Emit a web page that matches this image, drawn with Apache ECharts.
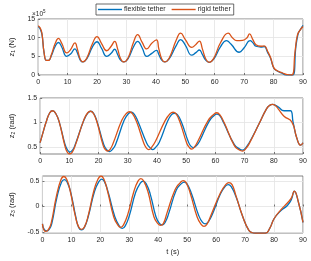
<!DOCTYPE html>
<html>
<head>
<meta charset="utf-8">
<script src="https://cdn.jsdelivr.net/npm/echarts@6/dist/echarts.min.js"></script>
<style>
html,body{margin:0;padding:0;background:#fff;}
#chart{width:311px;height:261px;}
</style>
</head>
<body>
<div id="chart"></div>
<script>
// z1 (x10^5 N): [t (s), value]
var z1Flexible = [[0,13],[0.7,12.3],[1.3,10.8],[2,6],[2.8,3.9],[3.5,3.9],[4.5,5.2],[5.8,7.7],[6.9,8.7],[8,7.5],[9.7,5],[11,5.6],[12.5,7],[13.3,6],[14.3,4],[15.2,3.5],[16.5,4.3],[18.5,7.6],[20,8.9],[21.5,7.2],[23.3,5],[24.8,5.8],[26,6.9],[27,5.5],[28,4],[29.1,3.5],[30.5,4.3],[32.5,7.7],[33.8,9],[35.3,7.3],[36.9,5],[38.6,5.8],[40.2,6.6],[41,5.5],[42,4],[43,3.5],[44.5,4.3],[47,8],[48.4,9.5],[50,8],[52.2,5.3],[53.6,6],[54.8,6.7],[55.8,5.5],[57,3.9],[58.1,3.4],[59.6,4.2],[62,7.6],[64,9.2],[65.5,8.3],[68.3,6.1],[70,7.3],[72,9.2],[73,8.6],[74,7.7],[75.7,7.5],[76.8,7.6],[78,6],[79,4.4],[80.1,1.8],[81.2,1.1],[82.9,0.5],[84.3,0],[86.5,0],[87.6,7.7],[88.4,11.2],[89,12],[90,13.3]];
var z1Rigid = [[0,13.2],[0.7,12.6],[1.3,11],[2,6],[2.8,3.9],[3.5,3.9],[4.5,5.5],[5.8,8.5],[6.9,9.8],[8,8.5],[9.7,5.9],[11,6.8],[12.5,8.6],[13.3,7],[14.3,4.2],[15.2,3.5],[16.5,4.5],[18.5,8.5],[20,10.3],[21.5,8.5],[23.3,6.5],[24.8,7.7],[26,9],[27,7],[28,4.4],[29.1,3.5],[30.5,4.5],[32.5,9],[33.8,10.8],[35.3,8.8],[36.9,7],[38.6,8.5],[40.2,9.4],[41,7],[42,4.3],[43,3.5],[44.5,4.5],[47,9.5],[48.4,11.2],[50,9.5],[52.2,7.4],[53.6,8.2],[54.8,9.1],[55.8,7],[57,4.2],[58.1,3.4],[59.6,4.4],[62,8.7],[64.6,11.2],[66,10],[67.5,9.2],[69.5,9.3],[71,10],[71.8,11],[73,9.4],[74,8.1],[75.7,7.7],[76.8,7.8],[78,6.3],[79,4.6],[80.1,1.9],[81.2,1.15],[82.9,0.6],[84.6,0.1],[86.2,0],[87.3,6.3],[88.1,10.7],[89,12],[90,13]];

// z2 (rad)
var z2Flexible = [[0,0.59],[1,0.8],[2,1],[3.3,1.2],[4.3,1.24],[5.3,1.19],[6.5,1.02],[8.5,0.56],[9.3,0.45],[10.2,0.4],[11.1,0.44],[12,0.55],[15,1.05],[16.3,1.19],[17.3,1.23],[18.3,1.19],[19.5,1.02],[21.8,0.55],[22.8,0.45],[23.7,0.41],[24.7,0.45],[25.8,0.55],[28.8,1.05],[30.2,1.18],[31.2,1.21],[32.2,1.17],[33.5,1.02],[36.5,0.58],[37.6,0.49],[38.6,0.45],[39.6,0.5],[40.8,0.6],[43.6,1.02],[45,1.16],[46,1.19],[47,1.16],[48.3,1.02],[50.8,0.6],[51.6,0.52],[52.5,0.49],[53.5,0.53],[54.6,0.62],[57.8,1.02],[59.5,1.14],[60.5,1.17],[61.5,1.14],[62.8,1.0],[66.5,0.55],[68.3,0.46],[69.3,0.44],[70.3,0.48],[71.5,0.58],[75,0.98],[77.5,1.28],[78.6,1.35],[79.6,1.37],[80.6,1.35],[81.5,1.32],[83.5,1.24],[85.7,1.24],[86.6,1.01],[87.9,0.68],[89.2,0.54],[90,0.59]];
var z2Rigid = [[0,0.59],[1,0.8],[2,1],[3.3,1.2],[4.3,1.24],[5.3,1.19],[6.5,1.02],[8.5,0.52],[9.2,0.41],[10.1,0.36],[11,0.4],[12,0.53],[15,1.06],[16.3,1.2],[17.3,1.23],[18.3,1.18],[19.5,1],[21.5,0.55],[22.2,0.46],[23.1,0.42],[24,0.46],[25,0.58],[28,1.05],[29.6,1.19],[30.6,1.22],[31.6,1.18],[33,1.02],[35.5,0.58],[36.3,0.49],[37.2,0.45],[38.2,0.5],[39.5,0.62],[42.8,1.04],[44.5,1.18],[45.5,1.21],[46.5,1.18],[47.8,1.02],[50.2,0.58],[51,0.5],[51.9,0.46],[52.8,0.5],[54,0.62],[57.5,1.04],[59.5,1.17],[60.5,1.2],[61.5,1.16],[63,1.0],[66.5,0.53],[68.2,0.44],[69.3,0.42],[70.3,0.46],[71.5,0.56],[75,0.98],[77.5,1.28],[78.6,1.35],[79.6,1.37],[80.6,1.34],[81.5,1.28],[83.5,1.13],[86.2,1.01],[87.9,0.68],[89.2,0.54],[90,0.59]];

// z3 (rad)
var z3Flexible = [[0,-0.34],[0.6,-0.45],[1.5,-0.48],[2.4,-0.44],[3.2,-0.34],[5,0.18],[6.6,0.48],[7.6,0.53],[8.6,0.47],[9.8,0.27],[11.5,-0.2],[12.5,-0.41],[13.5,-0.46],[14.5,-0.41],[15.8,-0.2],[18,0.3],[19.5,0.49],[20.5,0.54],[21.5,0.48],[22.8,0.26],[25,-0.2],[26.6,-0.39],[27.6,-0.43],[28.6,-0.38],[30,-0.18],[32.2,0.28],[33.8,0.46],[34.8,0.5],[35.8,0.45],[37.2,0.25],[39.2,-0.2],[40.4,-0.33],[41.4,-0.36],[42.4,-0.31],[43.7,-0.12],[46.2,0.32],[48,0.45],[49,0.48],[50,0.44],[51.5,0.25],[54,-0.18],[55.3,-0.31],[56.3,-0.34],[57.3,-0.3],[58.7,-0.15],[61.5,0.25],[63.2,0.4],[64.2,0.43],[65.2,0.39],[66.8,0.2],[69.2,-0.2],[71.3,-0.47],[72.5,-0.515],[73.5,-0.525],[77,-0.525],[78.5,-0.43],[80,-0.24],[82.4,-0.08],[84.6,0.02],[86,0.14],[87,0.3],[88.4,0.09],[90,-0.31]];
var z3Rigid = [[0,-0.34],[0.5,-0.46],[1.2,-0.49],[2.1,-0.45],[3,-0.33],[4.8,0.2],[6.4,0.53],[7.4,0.59],[8.4,0.53],[9.6,0.3],[11.4,-0.2],[12.5,-0.4],[13.5,-0.45],[14.5,-0.4],[15.8,-0.18],[17.8,0.32],[19.2,0.54],[20.2,0.6],[21.2,0.54],[22.5,0.3],[24.6,-0.2],[26,-0.36],[27,-0.41],[28,-0.36],[29.5,-0.15],[31.6,0.3],[33,0.5],[34,0.55],[35,0.5],[36.5,0.28],[38.5,-0.2],[39.8,-0.33],[40.8,-0.37],[41.8,-0.33],[43,-0.13],[45.8,0.33],[47.6,0.47],[48.6,0.51],[49.6,0.47],[51,0.27],[53.4,-0.2],[54.8,-0.35],[55.8,-0.39],[56.8,-0.35],[58,-0.2],[61.5,0.27],[63.3,0.43],[64.4,0.47],[65.5,0.43],[66.8,0.22],[69.2,-0.2],[71.3,-0.47],[72.5,-0.515],[73.5,-0.525],[77,-0.525],[78.5,-0.43],[80,-0.24],[82.4,-0.06],[84.6,0.07],[86,0.17],[87,0.3],[88.4,0.09],[90,-0.31]];

var xTicks = [0,10,20,30,40,50,60,70,80,90];
var z1Ticks = [0,5,10,15];
var z2Ticks = [0.5,1,1.5];
var z3Ticks = [-0.5,0,0.5];

var BLUE = '#0072BD', ORANGE = '#D95319';
var FONT = 'Liberation Sans, Arial, sans-serif';
var TXT = '#262626';

function xAxis(idx, withName) {
  return {
    type: 'value', gridIndex: idx, min: 0, max: 90, interval: 10,
    name: withName ? 't (s)' : '', nameLocation: 'middle', nameGap: 15,
    nameTextStyle: {color: TXT, fontSize: 7.5, fontFamily: FONT},
    axisLine: {show: false},
    axisTick: {show: true, inside: true, length: 2, lineStyle: {color: '#555', width: 0.8}},
    axisLabel: {color: TXT, fontSize: 7, fontFamily: FONT, margin: 4},
    splitLine: {show: true, lineStyle: {color: '#e3e3e3', width: 0.8}}
  };
}
function yAxis(idx, min, max, ticks, name) {
  return {
    type: 'value', gridIndex: idx, min: min, max: max,
    name: name, nameLocation: 'middle', nameGap: 20, nameRotate: 90,
    nameTextStyle: {color: TXT, fontSize: 7.5, fontFamily: FONT,
      rich: {s: {fontSize: 5, verticalAlign: 'bottom', color: TXT, fontFamily: FONT, padding: [4,0,0,0]}}},
    axisLine: {show: false},
    axisTick: {show: true, inside: true, length: 2, customValues: ticks, lineStyle: {color: '#555', width: 0.8}},
    axisLabel: {color: TXT, fontSize: 7, fontFamily: FONT, margin: 3, customValues: ticks},
    splitLine: {show: true, lineStyle: {color: '#e3e3e3', width: 0.8}}
  };
}
function line(name, data, color, idx) {
  return {
    name: name, type: 'line', data: data, xAxisIndex: idx, yAxisIndex: idx,
    symbol: 'none', showSymbol: false, smooth: 0.5, silent: true,
    lineStyle: {color: color, width: 1.3}, itemStyle: {color: color}
  };
}

var chart = echarts.init(document.getElementById('chart'), null, {renderer: 'canvas'});
chart.setOption({
  animation: false,
  backgroundColor: '#fff',
  textStyle: {fontFamily: FONT},
  legend: {
    data: [{name: 'flexible tether', icon: 'rect'}, {name: 'rigid tether', icon: 'rect'}],
    left: 96, top: 4, itemWidth: 24, itemHeight: 1.4, itemGap: 6,
    padding: [2, 3, 2, 2], borderColor: '#444', borderWidth: 0.8,
    backgroundColor: '#fff',
    textStyle: {color: TXT, fontSize: 7, fontFamily: FONT, padding: [0,0,0,-3]}
  },
  graphic: [{
    type: 'text', left: 32, top: 9,
    style: {text: '{a|×10}{b|5}', rich: {a: {fontSize: 6.5, fill: TXT, fontFamily: FONT}, b: {fontSize: 4.5, fill: TXT, fontFamily: FONT, verticalAlign: 'top', padding: [0,0,5,0]}}}
  }],
  grid: [
    {left: 32, right: 8, top: 19, height: 56, show: true, borderColor: '#666', borderWidth: 0.8, backgroundColor: 'transparent'},
    {left: 32, right: 8, top: 98, height: 56, show: true, borderColor: '#666', borderWidth: 0.8, backgroundColor: 'transparent'},
    {left: 32, right: 8, top: 176, height: 57, show: true, borderColor: '#666', borderWidth: 0.8, backgroundColor: 'transparent'}
  ],
  xAxis: [xAxis(0, false), xAxis(1, false), xAxis(2, true)],
  yAxis: [
    yAxis(0, 0, 15, z1Ticks, 'z{s|1} (N)'),
    yAxis(1, 0.36, 1.5, z2Ticks, 'z{s|2} (rad)'),
    yAxis(2, -0.52, 0.6, z3Ticks, 'z{s|3} (rad)')
  ],
  series: [
    line('flexible tether', z1Flexible, BLUE, 0),
    line('rigid tether', z1Rigid, ORANGE, 0),
    line('flexible tether', z2Flexible, BLUE, 1),
    line('rigid tether', z2Rigid, ORANGE, 1),
    line('flexible tether', z3Flexible, BLUE, 2),
    line('rigid tether', z3Rigid, ORANGE, 2)
  ]
});
</script>
</body>
</html>
